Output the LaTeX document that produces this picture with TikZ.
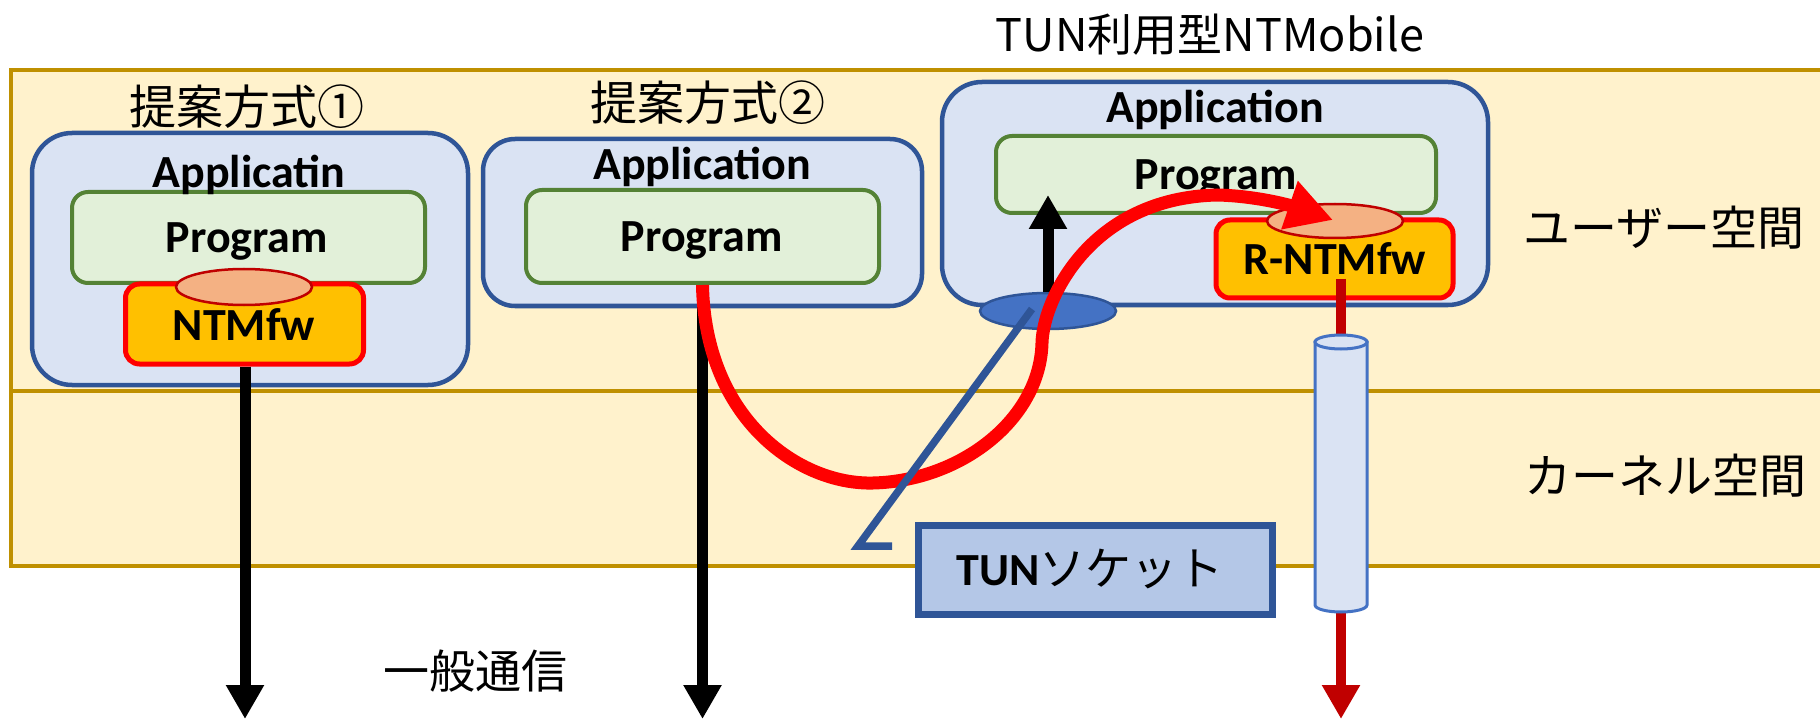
\documentclass[tikz,border=0pt]{standalone}
\usepackage{fontspec}
\setmainfont{Carlito}
\newfontfamily\latinb{Carlito}
\newfontfamily\jpf{Noto Sans CJK JP}
\usetikzlibrary{arrows.meta,shapes.geometric}
\definecolor{bandline}{HTML}{BF9000}
\definecolor{bandfill}{HTML}{FFF2CC}
\definecolor{appfill}{HTML}{DAE3F3}
\definecolor{appline}{HTML}{2F5597}
\definecolor{progfill}{HTML}{E2F0D9}
\definecolor{progline}{HTML}{548235}
\definecolor{ntmfill}{HTML}{FFC000}
\definecolor{ntmline}{HTML}{FF0000}
\definecolor{capfill}{HTML}{F4B183}
\definecolor{darkred}{HTML}{C00000}
\definecolor{sockfill}{HTML}{4472C4}
\definecolor{tunfill}{HTML}{B4C7E7}
\begin{document}
\begin{tikzpicture}[x=1pt,y=-1pt,
  band/.style={draw=bandline,fill=bandfill,line width=4.5pt},
  bandln/.style={draw=bandline,line width=4.5pt},
  appbox/.style={draw=appline,fill=appfill,line width=4.5pt,inner sep=0pt,rectangle},
  progbox/.style={draw=progline,fill=progfill,line width=4pt,rounded corners=16pt,inner sep=0pt,rectangle},
  ntmbox/.style={draw=ntmline,fill=ntmfill,line width=5pt,rounded corners=14pt,inner sep=0pt,rectangle},
  capell/.style={ellipse,draw=darkred,fill=capfill,line width=2.5pt,inner sep=0pt},
  sockell/.style={ellipse,draw=appline,fill=sockfill,line width=2.5pt,inner sep=0pt},
  lbl/.style={inner sep=0pt,anchor=base,font=\latinb\bfseries\fontsize{46}{50}\selectfont},
  jlbl/.style={inner sep=0pt,anchor=base,font=\jpf\fontsize{47}{52}\selectfont},
  blkarrow/.style={draw=black,line width=11pt,-{Triangle[length=34pt,width=36pt]}},
  dredline/.style={draw=darkred,line width=10pt},
  redcurve/.style={draw=ntmline,line width=13pt,-{Triangle[length=46pt,width=48pt]}},
  callout/.style={draw=appline,line width=7.5pt,line join=miter},
  cyl/.style={draw=sockfill,fill=appfill,line width=3pt},
  tunbox/.style={draw=appline,fill=tunfill,line width=7pt,inner sep=0pt,rectangle}
]
\useasboundingbox (0,0) rectangle (1820,719);
\clip (0,0) rectangle (1820,719);
\fill[white] (0,0) rectangle (1820,719);

% layered band
\draw[band] (11,70) rectangle (1850,566);
\draw[bandln] (11,391) -- (1850,391);

% title texts
\node[jlbl,font=\jpf\fontsize{45}{50}\selectfont] (title3) at (1210,52) {TUN利用型NTMobile};
\node[jlbl] (title1) at (247,125) {提案方式①};
\node[jlbl] (title2) at (708,121) {提案方式②};
\node[jlbl] (user) at (1664,246) {ユーザー空間};
\node[jlbl] (kernel) at (1665,493) {カーネル空間};
\node[jlbl,font=\jpf\fontsize{46}{50}\selectfont] (normal) at (475,688) {一般通信};

% application boxes
\node[appbox,rounded corners=40pt,minimum width=436pt,minimum height=252pt] (app1) at (250,259) {};
\node[appbox,rounded corners=32pt,minimum width=439pt,minimum height=167pt] (app2) at (702.5,222.5) {};
\node[appbox,rounded corners=40pt,minimum width=546pt,minimum height=223pt] (app3) at (1215,193.5) {};

% program boxes
\node[progbox,minimum width=353pt,minimum height=91pt] (prog1) at (248.5,237.5) {};
\node[progbox,minimum width=353pt,minimum height=93pt] (prog2) at (702.5,236.5) {};
\node[progbox,minimum width=440pt,minimum height=77pt] (prog3) at (1216,174.5) {};

% NTMfw boxes
\node[ntmbox,minimum width=238pt,minimum height=80pt] (ntm1) at (244.5,324) {};
\node[ntmbox,minimum width=237pt,minimum height=78pt] (rntm) at (1334.5,259) {};

% API ellipses
\node[capell,minimum width=136pt,minimum height=36pt] (cap1) at (244,287) {};
\node[capell,minimum width=136pt,minimum height=34pt] (cap3) at (1335,221) {};

% labels
\node[lbl] (tapp1) at (249,188) {Applicatin};
\node[lbl] (tprog1) at (247,253) {Program};
\node[lbl] (tntm1) at (244,340) {NTMfw};
\node[lbl] (tapp2) at (702,180) {Application};
\node[lbl] (tprog2) at (702,252) {Program};
\node[lbl] (tapp3) at (1215,123) {Application};
\node[lbl] (tprog3) at (1216,190) {Program};
\node[lbl] (trntm) at (1335,275) {R-NTMfw};

% coordinates
\coordinate (out1) at (245,719);
\coordinate (out2) at (702.5,719);
\coordinate (out3) at (1341,719);
\coordinate (uptip) at (1048,195);
\coordinate (rstart) at (1341,279);
\coordinate (cyltop) at (1341,342);
\coordinate (cylbot) at (1341,605);
\coordinate (rtip) at (1333,220);
\coordinate (c1) at (1032,309);
\coordinate (c2) at (858,546);
\coordinate (c3) at (892,546);

% black arrows
\draw[blkarrow] (ntm1.south -| out1) -- (out1);
\draw[blkarrow] (prog2.south) -- (out2);

% TUN socket interface
\node[sockell,minimum width=136pt,minimum height=36pt] (sock) at (1048,311) {};
\draw[blkarrow] (sock.north) -- (uptip);

% dark red path through tunnel
\draw[dredline] (rstart) -- (cyltop);
\draw[dredline,-{Triangle[length=34pt,width=36pt]}] (cylbot) -- (out3);
\path[cyl] (1315,342) -- (1315,605) arc[start angle=180,end angle=360,x radius=26pt,y radius=7pt] -- (1367,342) -- cycle;
\draw[cyl] (1341,342) ellipse [x radius=26pt,y radius=7pt];

% red curve
\draw[redcurve] (prog2.south) .. controls (705,420) and (800,485) .. (873,483)
  .. controls (960,481) and (1040,420) .. (1042,343)
  .. controls (1043,300) and (1090,198) .. (1217,195)
  .. controls (1260,196) and (1295,207) .. (rtip);

% callout
\draw[callout] (c1) -- (c2) -- (c3);

% TUN socket box
\node[tunbox,minimum width=354pt,minimum height=89pt] (tun) at (1095,569.5) {};
\node[lbl] (ttun) at (1090,585) {TUN{\jpf\mdseries ソケット}};
\end{tikzpicture}
\end{document}
